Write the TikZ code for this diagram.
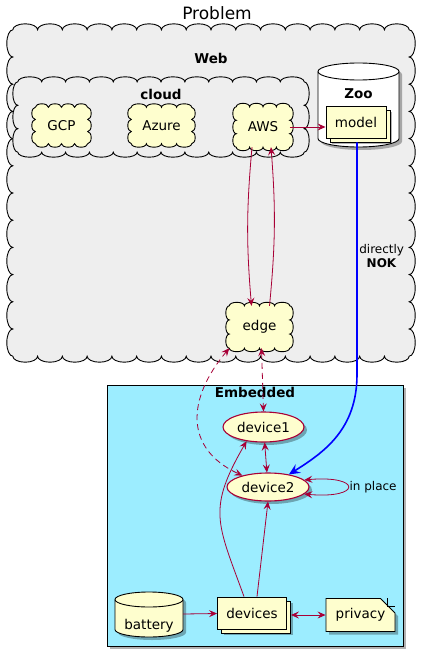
\documentclass[tikz,border=0pt]{standalone}
\usepackage{fontspec}
\setmainfont{DejaVu Sans}
\usepackage{xcolor}
\definecolor{PlantRed}{HTML}{A80036}
\definecolor{PlantCream}{HTML}{FEFECE}
\definecolor{PlantGrey}{HTML}{EEEEEE}
\definecolor{PlantCyan}{HTML}{9CEDFF}
\definecolor{PlantBlue}{HTML}{0000FF}
\usepackage{tikz}
\usetikzlibrary{positioning,arrows.meta,shapes.geometric,shapes.misc,shadows,backgrounds,calc}
\tikzset{
  pfont/.style={font=\fontsize{13.5pt}{16pt}\selectfont},
  pshadow/.style={drop shadow={shadow xshift=3pt,shadow yshift=-3pt,opacity=0.3,fill=black}},
  pgroup/.style={inner sep=0pt},
  pgrouplabel/.style={font=\fontsize{13.5pt}{16pt}\selectfont\bfseries,inner sep=1pt},
  pcloud/.style={pfont,inner sep=0pt},
  pframe/.style={draw=black,line width=1pt,fill=PlantCyan,pshadow,inner sep=0pt},
  pusecase/.style={pfont,ellipse,draw=PlantRed,line width=1.1pt,fill=PlantCream,pshadow,inner sep=0pt},
  pdbspot/.style={pfont,inner sep=0pt},
  pstack/.style={pfont,draw=black,line width=0.9pt,fill=PlantCream,inner sep=0pt,
    drop shadow={shadow xshift=6pt,shadow yshift=-6pt,opacity=0.3,fill=black},
    copy shadow={shadow xshift=4pt,shadow yshift=-4pt,fill=PlantCream,draw=black,line width=0.9pt}},
  pnote/.style={pfont,chamfered rectangle,chamfered rectangle corners=north east,chamfered rectangle xsep=8pt,chamfered rectangle ysep=8pt,draw=black,line width=0.9pt,fill=PlantCream,pshadow,inner sep=0pt},
  ptitle/.style={font=\fontsize{17pt}{20pt}\selectfont,inner sep=0pt},
  plabel/.style={font=\fontsize{12pt}{14pt}\selectfont,inner sep=1.5pt},
  pflow/.style={->,>={Stealth[length=8pt,width=7pt,inset=3pt]},draw=PlantRed,line width=0.8pt},
  pdash/.style={pflow,dash pattern=on 6pt off 4pt},
  pblueflow/.style={->,>={Stealth[length=11pt,width=10pt,inset=4pt]},draw=PlantBlue,line width=1.6pt},
  % half width / half height / cap radius / fill
  pics/pdatabase/.style args={#1/#2/#3/#4}{code={
    \fill[black,opacity=0.3,shift={(3,-3)}] (-#1,#2-#3) -- (-#1,-#2+#3)
      arc[start angle=180,end angle=360,x radius=#1pt,y radius=#3pt] -- (#1,#2-#3)
      arc[start angle=0,end angle=180,x radius=#1pt,y radius=#3pt] -- cycle;
    \filldraw[fill=#4,draw=black,line width=0.9pt] (-#1,#2-#3) -- (-#1,-#2+#3)
      arc[start angle=180,end angle=360,x radius=#1pt,y radius=#3pt] -- (#1,#2-#3)
      arc[start angle=0,end angle=180,x radius=#1pt,y radius=#3pt] -- cycle;
    \draw[line width=0.9pt] (-#1,#2-#3) arc[start angle=180,end angle=360,x radius=#1pt,y radius=#3pt];
  }}
}
% scalloped outline round a node: node / bumps across / bumps down / bump height / fill
\newcommand\pscallop[5]{%
  \filldraw[fill=#5,draw=black,line width=0.9pt]
    let \p1=(#1.south west), \p2=(#1.north east),
        \n1={(\x2-\x1)/(2*#2)}, \n2={(\y2-\y1)/(2*#3)} in
    (\p1)
    \foreach \k in {1,...,#2}{ arc[start angle=180,end angle=360,x radius=\n1,y radius=#4pt] }
    \foreach \k in {1,...,#3}{ arc[start angle=-90,end angle=90,x radius=#4pt,y radius=\n2] }
    \foreach \k in {1,...,#2}{ arc[start angle=0,end angle=180,x radius=\n1,y radius=#4pt] }
    \foreach \k in {1,...,#3}{ arc[start angle=90,end angle=270,x radius=#4pt,y radius=\n2] }
    -- cycle;
}
\begin{document}
\begin{tikzpicture}[x=1pt,y=1pt]
  \useasboundingbox (0,0) rectangle (433,-655);
  \node[ptitle] (title) at (217,-13) {Problem};
  % Web and its cloud group
  \node[pgroup,minimum width=396pt,minimum height=326pt,
    label={[pgrouplabel,anchor=north,yshift=-22pt]north:Web}] (web) at (211,-193) {};
  \node[pgroup,minimum width=286pt,minimum height=70pt,
    label={[pgrouplabel,anchor=north,yshift=-6pt]north:cloud}] (cloudgrp) at (161,-117) {};
  \node[pcloud,minimum width=52pt,minimum height=36pt] (gcp) at (61.5,-125.5) {GCP};
  \node[pcloud,minimum width=60pt,minimum height=36pt] (azure) at (161.5,-125.5) {Azure};
  \node[pcloud,minimum width=53pt,minimum height=40pt] (aws) at (263,-127) {AWS};
  \node[pcloud,minimum width=60pt,minimum height=42pt] (edge) at (259.5,-327) {edge};
  \begin{scope}[on background layer]
    \pscallop{web}{16}{12}{6}{PlantGrey}
    \pscallop{cloudgrp}{12}{3}{5}{PlantGrey}
    \foreach \nd in {gcp,azure,aws,edge}{\pscallop{\nd}{4}{3}{3.5}{PlantCream}}
  \end{scope}
  \pic at (358.5,-105) {pdatabase=40.5/42/8.5/white};
  \node[pdbspot,minimum width=81pt,minimum height=84pt,
    label={[pgrouplabel,yshift=11pt]center:Zoo}] (zoo) at (358.5,-105) {};
  \node[pstack,minimum width=60pt,minimum height=32pt] (model) at (356,-122) {model};
  % Embedded
  \node[pframe,minimum width=296pt,minimum height=261pt,
    label={[pgrouplabel,anchor=north,yshift=-2pt]north:Embedded}] (embedded) at (255,-515.5) {};
  \node[pusecase,minimum width=81pt,minimum height=30pt] (device1) at (263.5,-427) {device1};
  \node[pusecase,minimum width=82pt,minimum height=28pt] (device2) at (268,-487) {device2};
  \pic at (149,-614.5) {pdatabase=34/22.5/7.5/PlantCream};
  \node[pdbspot,minimum width=68pt,minimum height=45pt,
    label={[pfont,inner sep=0pt,yshift=-11.5pt]center:battery}] (battery) at (149,-614.5) {};
  \node[pstack,minimum width=69pt,minimum height=32pt] (devices) at (252,-613) {devices};
  \node[pnote,minimum width=69pt,minimum height=33pt] (privacy) at (360.5,-615) {privacy};
  \draw[line width=0.9pt] ($(privacy.north -| privacy.east)+(-8pt,0)$) |- ($(privacy.north -| privacy.east)+(0,-8pt)$);
  % connectors
  \draw[pflow] (aws.east) -- (aws.east -| model.west);
  \draw[pflow] ([xshift=-11pt]aws.south) to[bend right=5] ([xshift=-8pt]edge.north);
  \draw[pflow] ([xshift=10pt]edge.north) to[bend right=5] ([xshift=8pt]aws.south);
  \draw[pblueflow] ([xshift=1pt,yshift=-4pt]model.south)
    -- node[plabel,right,align=center,pos=0.49] {directly\\\textbf{NOK}} ++(0,-232)
    .. controls +(0,-55) and +(35,22) .. (device2.31);
  \draw[pdash,<->] (edge.south west) to[out=230,in=155,looseness=1.3] (device2.156);
  \draw[pdash,<->] ([xshift=2pt]edge.south) -- (device1.north);
  \draw[pflow,<->] (device1) -- (device2);
  \draw[pflow,<->] (device2.11) to[out=5,in=-5,distance=58pt] node[plabel,right] {in place} (device2.-11);
  \draw[pflow] ([xshift=-8pt]devices.north) to[out=110,in=240,looseness=1.3] (device1.220);
  \draw[pflow] ([xshift=5pt]devices.north) -- (device2.south);
  \draw[pflow] (battery) -- (devices);
  \draw[pflow,<->] ([xshift=4pt,yshift=-2pt]devices.east) -- (privacy.west);
\end{tikzpicture}
\end{document}
